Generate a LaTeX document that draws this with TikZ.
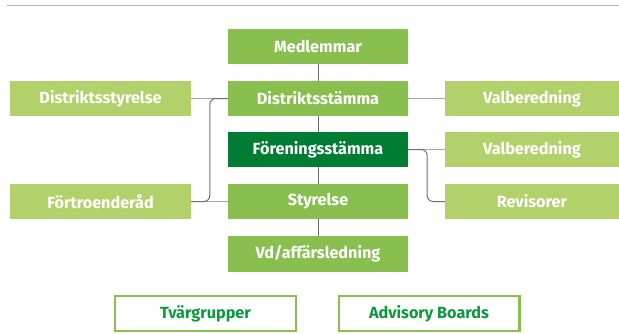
\documentclass[tikz,border=0pt]{standalone}
\usepackage{fontspec}
\setmainfont{Fira Sans}
\definecolor{lightgreen}{HTML}{B3D16B}
\definecolor{midgreen}{HTML}{88BF4E}
\definecolor{darkgreen}{HTML}{007D32}
\definecolor{textgreen}{HTML}{0A9A3D}
\definecolor{linegray}{HTML}{6E6E6E}
\definecolor{lightgray}{HTML}{A8A8A8}
\definecolor{rulegray}{HTML}{B4B4B4}

\begin{document}
\begin{tikzpicture}[x=1pt,y=-1pt]
  \tikzstyle{box}=[rectangle, minimum width=180pt, minimum height=35pt, inner sep=0pt, text=white, font=\bfseries\fontsize{16.2}{18}\selectfont]
  \tikzstyle{sidebox}=[box, fill=lightgreen, minimum width=181pt]
  \tikzstyle{mainbox}=[box, fill=midgreen]
  \tikzstyle{keybox}=[box, fill=darkgreen]
  \tikzstyle{outbox}=[box, draw=midgreen, line width=2.2pt, text=textgreen, minimum width=180.8pt, minimum height=34.8pt]
  \tikzstyle{link}=[draw=linegray, line width=1pt]
  \tikzstyle{sidelink}=[draw=lightgray, line width=1.2pt]
  \tikzstyle{elbow}=[draw=linegray, line width=1pt, rounded corners=6pt]

  \useasboundingbox (0,0) rectangle (619,333);
  \draw[rulegray, line width=1.3pt] (7,5.5) -- (619,5.5);

  \node[mainbox] (1) at (318, 46.5) {Medlemmar};
  \node[sidebox] (2) at (100.5, 98.5) {Distriktsstyrelse};
  \node[mainbox] (3) at (318, 98.5) {Distriktsstämma};
  \node[sidebox, minimum width=174pt] (4) at (532, 98.5) {Valberedning};
  \node[keybox] (5) at (318, 149.5) {Föreningsstämma};
  \node[sidebox, minimum width=174pt] (6) at (532, 149.5) {Valberedning};
  \node[sidebox] (7) at (100.5, 201.5) {Förtroenderåd};
  \node[mainbox] (8) at (318, 201.5) {Styrelse};
  \node[sidebox, minimum width=174pt] (9) at (532, 201.5) {Revisorer};
  \node[mainbox, minimum height=36pt] (10) at (318, 254) {Vd/affärsledning};
  \node[outbox] (11) at (205.5, 313.5) {Tvärgrupper};
  \node[outbox] (12) at (429, 313.5) {Advisory Boards};

  \path[link] (1) edge (3);
  \path[link] (3) edge (5);
  \path[link] (5) edge (8);
  \path[link] (8) edge (10);
  \path[sidelink] (2) edge (3);
  \path[sidelink] (3) edge (4);
  \path[sidelink] (5) edge (6);
  \path[sidelink] (7) edge (8);
  \draw[elbow] (3.west) -- ++(-18,0) |- (7.east);
  \draw[elbow] (5.east) -- ++(19,0) |- (9.west);
\end{tikzpicture}
\end{document}
